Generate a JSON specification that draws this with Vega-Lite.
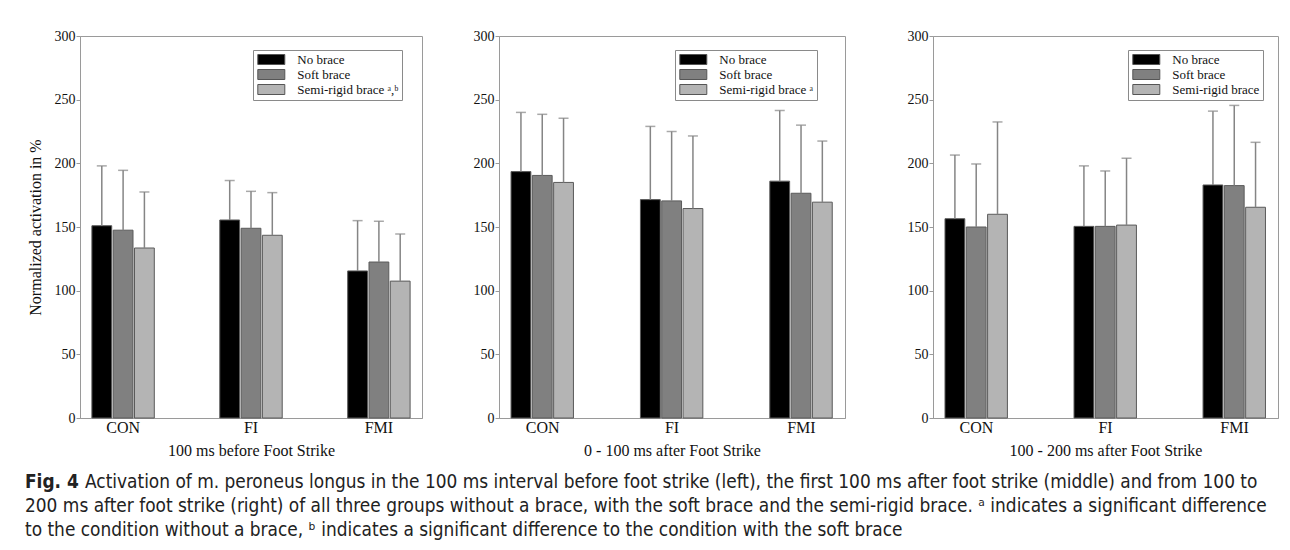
{
  "$schema": "https://vega.github.io/schema/vega-lite/v6.json",
  "padding": {"left": 25, "top": 28, "right": 16, "bottom": 4},
  "background": "white",
  "config": {
    "view": {"stroke": "#9a9a9a", "strokeWidth": 1},
    "axis": {
      "labelFont": "Liberation Serif", "titleFont": "Liberation Serif",
      "titleFontWeight": "normal", "labelColor": "#111", "titleColor": "#111",
      "domainColor": "#9a9a9a", "tickColor": "#9a9a9a", "grid": false
    },
    "legend": {
      "orient": "none", "title": null, "labelFont": "Liberation Serif", "labelFontSize": 13,
      "labelColor": "#111", "strokeColor": "#8a8a8a", "fillColor": "white", "padding": 3,
      "symbolType": "M-2.7,-1H2.7V1H-2.7Z", "symbolSize": 100, "symbolStrokeColor": "#555",
      "symbolStrokeWidth": 1, "symbolOffset": 8.8, "labelOffset": 19.5, "rowPadding": 0, "symbolOpacity": 1
    }
  },
  "datasets": {
    "bars": [
      {"panel": 1, "group": "CON", "brace": "No brace", "mean": 151, "upper": 198},
      {"panel": 1, "group": "CON", "brace": "Soft brace", "mean": 147.5, "upper": 194.5},
      {"panel": 1, "group": "CON", "brace": "Semi-rigid brace", "mean": 133.5, "upper": 177.5},
      {"panel": 1, "group": "FI", "brace": "No brace", "mean": 155.5, "upper": 186.5},
      {"panel": 1, "group": "FI", "brace": "Soft brace", "mean": 149, "upper": 178},
      {"panel": 1, "group": "FI", "brace": "Semi-rigid brace", "mean": 143.5, "upper": 177},
      {"panel": 1, "group": "FMI", "brace": "No brace", "mean": 115.5, "upper": 155},
      {"panel": 1, "group": "FMI", "brace": "Soft brace", "mean": 122.5, "upper": 154.5},
      {"panel": 1, "group": "FMI", "brace": "Semi-rigid brace", "mean": 107.5, "upper": 144.5},
      {"panel": 2, "group": "CON", "brace": "No brace", "mean": 193.5, "upper": 240},
      {"panel": 2, "group": "CON", "brace": "Soft brace", "mean": 190.5, "upper": 238.5},
      {"panel": 2, "group": "CON", "brace": "Semi-rigid brace", "mean": 185, "upper": 235.5},
      {"panel": 2, "group": "FI", "brace": "No brace", "mean": 171.5, "upper": 229},
      {"panel": 2, "group": "FI", "brace": "Soft brace", "mean": 170.5, "upper": 225},
      {"panel": 2, "group": "FI", "brace": "Semi-rigid brace", "mean": 164.5, "upper": 221.5},
      {"panel": 2, "group": "FMI", "brace": "No brace", "mean": 186, "upper": 241.5},
      {"panel": 2, "group": "FMI", "brace": "Soft brace", "mean": 176.5, "upper": 230},
      {"panel": 2, "group": "FMI", "brace": "Semi-rigid brace", "mean": 169.5, "upper": 217.5},
      {"panel": 3, "group": "CON", "brace": "No brace", "mean": 156.5, "upper": 206.5},
      {"panel": 3, "group": "CON", "brace": "Soft brace", "mean": 150, "upper": 199.5},
      {"panel": 3, "group": "CON", "brace": "Semi-rigid brace", "mean": 160, "upper": 232.5},
      {"panel": 3, "group": "FI", "brace": "No brace", "mean": 150.5, "upper": 198},
      {"panel": 3, "group": "FI", "brace": "Soft brace", "mean": 150.5, "upper": 194},
      {"panel": 3, "group": "FI", "brace": "Semi-rigid brace", "mean": 151.5, "upper": 204},
      {"panel": 3, "group": "FMI", "brace": "No brace", "mean": 183, "upper": 241},
      {"panel": 3, "group": "FMI", "brace": "Soft brace", "mean": 182.5, "upper": 245.5},
      {"panel": 3, "group": "FMI", "brace": "Semi-rigid brace", "mean": 165.5, "upper": 216.5}
    ],
    "caption": [
      {"line": 1, "col": 0, "part": "label", "text": "Fig. 4"},
      {"line": 1, "col": 0, "part": "lead", "text": "Activation of m. peroneus longus in the 100 ms interval before foot strike (left), the first 100 ms after foot strike (middle) and from 100 to"},
      {"line": 2, "col": 0, "part": "body", "text": "200 ms after foot strike (right) of all three groups without a brace, with the soft brace and the semi-rigid brace. ᵃ indicates a significant difference"},
      {"line": 3, "col": 0, "part": "body", "text": "to the condition without a brace, ᵇ indicates a significant difference to the condition with the soft brace"}
    ]
  },
  "vconcat": [
    {
      "resolve": {"scale": {"color": "independent"}, "legend": {"color": "independent"}},
      "spacing": 49,
      "hconcat": [
        {
          "width": 342, "height": 382,
          "data": {"name": "bars"},
          "transform": [{"filter": "datum.panel == 1"}],
          "encoding": {
            "x": {"field": "group", "type": "nominal", "sort": ["CON", "FI", "FMI"],
                  "scale": {"paddingInner": 0.512, "paddingOuter": 0.093},
                  "axis": {"title": "100 ms before Foot Strike", "labelAngle": 0, "labelFontSize": 16, "titleFontSize": 16, "ticks": false, "tickSize": 0, "labelPadding": 1, "titlePadding": 7}},
            "xOffset": {"field": "brace", "type": "nominal", "sort": ["No brace", "Soft brace", "Semi-rigid brace"], "scale": {"paddingInner": 0.07, "paddingOuter": 0}}
          },
          "layer": [
            {
              "mark": {"type": "bar", "stroke": "#5a5a5a", "strokeWidth": 1},
              "encoding": {
                "y": {"field": "mean", "type": "quantitative", "scale": {"domain": [0, 300]},
                      "axis": {"title": "Normalized activation in %", "values": [0, 50, 100, 150, 200, 250, 300], "labelFontSize": 14, "titleFontSize": 16, "tickSize": 4, "labelPadding": 1, "titlePadding": 11}},
                "color": {"field": "brace", "type": "nominal",
                          "scale": {"domain": ["No brace", "Soft brace", "Semi-rigid brace"], "range": ["#000000", "#808080", "#b4b4b4"]},
                          "legend": {"legendX": 173, "legendY": 14, "labelExpr": "datum.label == 'Semi-rigid brace' ? 'Semi-rigid brace ᵃ,ᵇ' : datum.label"}}
              }
            },
            {
              "mark": {"type": "rule", "color": "#858585", "strokeWidth": 1.5},
              "encoding": {"y": {"field": "mean", "type": "quantitative"}, "y2": {"field": "upper"}}
            },
            {
              "mark": {"type": "tick", "orient": "horizontal", "size": 10, "thickness": 1.5, "color": "#858585"},
              "encoding": {"y": {"field": "upper", "type": "quantitative"}}
            }
          ]
        },
        {
          "resolve": {"scale": {"color": "independent"}, "legend": {"color": "independent"}},
          "spacing": 60,
          "hconcat": [
            {
              "width": 346, "height": 382,
              "data": {"name": "bars"},
              "transform": [{"filter": "datum.panel == 2"}],
              "encoding": {
                "x": {"field": "group", "type": "nominal", "sort": ["CON", "FI", "FMI"],
                      "scale": {"paddingInner": 0.512, "paddingOuter": 0.093},
                      "axis": {"title": "0 - 100 ms after Foot Strike", "labelAngle": 0, "labelFontSize": 16, "titleFontSize": 16, "ticks": false, "tickSize": 0, "labelPadding": 1, "titlePadding": 7}},
                "xOffset": {"field": "brace", "type": "nominal", "sort": ["No brace", "Soft brace", "Semi-rigid brace"], "scale": {"paddingInner": 0.07, "paddingOuter": 0}}
              },
              "layer": [
                {
                  "mark": {"type": "bar", "stroke": "#5a5a5a", "strokeWidth": 1},
                  "encoding": {
                    "y": {"field": "mean", "type": "quantitative", "scale": {"domain": [0, 300]},
                          "axis": {"title": null, "values": [0, 50, 100, 150, 200, 250, 300], "labelFontSize": 14, "tickSize": 4, "labelPadding": 1}},
                    "color": {"field": "brace", "type": "nominal",
                              "scale": {"domain": ["No brace", "Soft brace", "Semi-rigid brace"], "range": ["#000000", "#808080", "#b4b4b4"]},
                              "legend": {"legendX": 176, "legendY": 14, "labelExpr": "datum.label == 'Semi-rigid brace' ? 'Semi-rigid brace ᵃ' : datum.label"}}
                  }
                },
                {
                  "mark": {"type": "rule", "color": "#858585", "strokeWidth": 1.5},
                  "encoding": {"y": {"field": "mean", "type": "quantitative"}, "y2": {"field": "upper"}}
                },
                {
                  "mark": {"type": "tick", "orient": "horizontal", "size": 10, "thickness": 1.5, "color": "#858585"},
                  "encoding": {"y": {"field": "upper", "type": "quantitative"}}
                }
              ]
            },
            {
              "width": 345, "height": 382,
              "data": {"name": "bars"},
              "transform": [{"filter": "datum.panel == 3"}],
              "encoding": {
                "x": {"field": "group", "type": "nominal", "sort": ["CON", "FI", "FMI"],
                      "scale": {"paddingInner": 0.512, "paddingOuter": 0.093},
                      "axis": {"title": "100 - 200 ms after Foot Strike", "labelAngle": 0, "labelFontSize": 16, "titleFontSize": 16, "ticks": false, "tickSize": 0, "labelPadding": 1, "titlePadding": 7}},
                "xOffset": {"field": "brace", "type": "nominal", "sort": ["No brace", "Soft brace", "Semi-rigid brace"], "scale": {"paddingInner": 0.07, "paddingOuter": 0}}
              },
              "layer": [
                {
                  "mark": {"type": "bar", "stroke": "#5a5a5a", "strokeWidth": 1},
                  "encoding": {
                    "y": {"field": "mean", "type": "quantitative", "scale": {"domain": [0, 300]},
                          "axis": {"title": null, "values": [0, 50, 100, 150, 200, 250, 300], "labelFontSize": 14, "tickSize": 4, "labelPadding": 1}},
                    "color": {"field": "brace", "type": "nominal",
                              "scale": {"domain": ["No brace", "Soft brace", "Semi-rigid brace"], "range": ["#000000", "#808080", "#b4b4b4"]},
                              "legend": {"legendX": 195, "legendY": 14}}
                  }
                },
                {
                  "mark": {"type": "rule", "color": "#858585", "strokeWidth": 1.5},
                  "encoding": {"y": {"field": "mean", "type": "quantitative"}, "y2": {"field": "upper"}}
                },
                {
                  "mark": {"type": "tick", "orient": "horizontal", "size": 10, "thickness": 1.5, "color": "#858585"},
                  "encoding": {"y": {"field": "upper", "type": "quantitative"}}
                }
              ]
            }
          ]
        }
      ]
    },
    {
      "width": 1180, "height": 72,
      "view": {"stroke": null},
      "data": {"name": "caption"},
      "encoding": {
        "y": {"field": "line", "type": "ordinal", "scale": {"type": "band", "paddingInner": 0, "paddingOuter": 0}, "axis": null},
        "x": {"field": "col", "type": "quantitative", "scale": {"domain": [0, 1]}, "axis": null},
        "text": {"field": "text"}
      },
      "layer": [
        {"transform": [{"filter": "datum.part == 'label'"}],
         "mark": {"type": "text", "align": "left", "baseline": "alphabetic", "dx": -55, "font": "DejaVu Sans Condensed", "fontSize": 18.9, "fontWeight": "bold", "color": "#222"}},
        {"transform": [{"filter": "datum.part == 'lead'"}],
         "mark": {"type": "text", "align": "left", "baseline": "alphabetic", "dx": 5, "font": "DejaVu Sans Condensed", "fontSize": 18.9, "color": "#222"}},
        {"transform": [{"filter": "datum.part == 'body'"}],
         "mark": {"type": "text", "align": "left", "baseline": "alphabetic", "dx": -55, "font": "DejaVu Sans Condensed", "fontSize": 18.9, "color": "#222"}}
      ]
    }
  ],
  "spacing": 14
}
